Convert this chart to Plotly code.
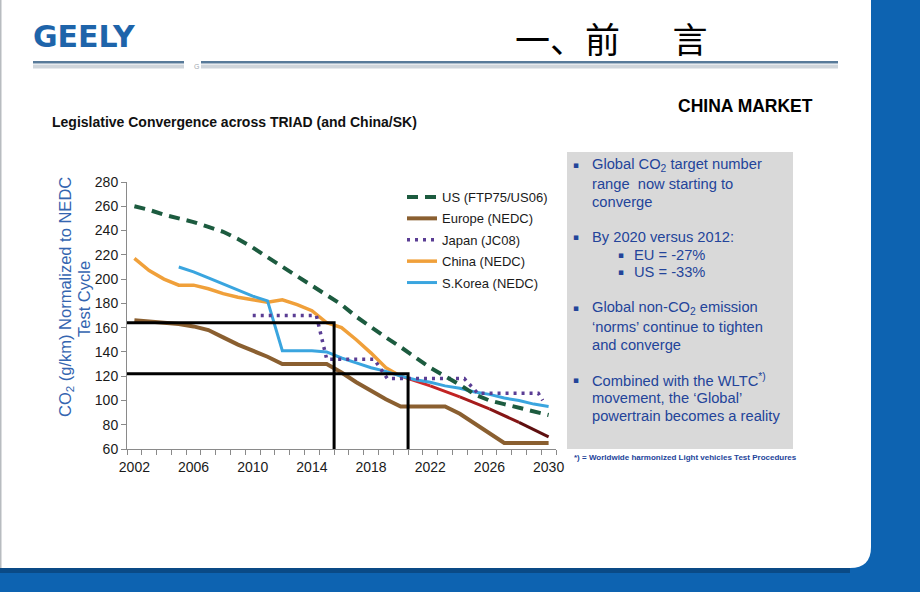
import plotly.graph_objects as go

# ---------------- data ----------------
years_full = list(range(2002, 2031))
us_ftp = [260, 257, 253, 250, 247, 243, 239, 233, 226, 218, 210, 203, 195, 187, 179,
          169, 160, 152, 144, 135, 127, 120, 113, 105, 100, 97, 94, 91, 88]
europe_nedc = [166, 165, 164, 163, 161, 158, 152, 146, 141, 136, 130, 130, 130, 130, 123,
               115, 108, 101, 95, 95, 95, 95, 89, 81, 73, 65, 65, 65, 65]

china_years = list(range(2002, 2021))
china_nedc = [217, 207, 200, 195, 195, 192, 188, 185, 183, 181, 183, 179, 174, 164, 160,
              150, 139, 127, 120]
china_proj_years = [2020, 2022, 2024, 2026, 2028, 2030]
china_proj = [120, 112, 103, 93, 82, 70]

korea_years = list(range(2005, 2031))
korea_nedc = [210, 206, 201, 196, 191, 186, 182, 141, 141, 141, 140, 135, 131, 127, 124,
              120, 117, 115, 112, 110, 107, 105, 102, 100, 97, 95]

japan_years = [2010, 2014.3, 2015, 2018.2, 2019.1, 2024.3, 2025.2, 2029.3, 2029.6]
japan_jc08 = [170, 170, 134, 134, 118, 118, 106, 106, 100]

ref_years = [2015.5, 2020.5]
ref_values = [164, 122]

x_ticks = [2002, 2006, 2010, 2014, 2018, 2022, 2026, 2030]
y_ticks = [60, 80, 100, 120, 140, 160, 180, 200, 220, 240, 260, 280]

# ---------------- layout geometry ----------------
W, H = 920, 592
ML, MR, MT, MB = 127, 364, 182, 143
PW, PH = W - ML - MR, H - MT - MB
X0, X1 = 2001.5, 2030.5
Y0, Y1 = 60, 280


def fx(px):
    return (px - ML) / PW


def fy(py):
    return (H - MB - py) / PH


FONT = "Arial, 'Liberation Sans', sans-serif"
BLUE_TXT = "#23449a"

fig = go.Figure()

# series (drawing order), legend ranks keep legend order
fig.add_trace(go.Scatter(x=years_full, y=europe_nedc, mode="lines", name="Europe (NEDC)",
                         line=dict(color="#8a5f30", width=4), legendrank=2, legendgroup="eu"))
fig.add_trace(go.Scatter(x=china_years, y=china_nedc, mode="lines", name="China (NEDC)",
                         line=dict(color="#f0a03a", width=3.5), legendrank=4, legendgroup="cn"))
# China projection, red fading to dark
proj_cols = ["#d42a2a", "#c22323", "#a61c1c", "#851515", "#5e0f0f"]
for i in range(len(china_proj_years) - 1):
    fig.add_trace(go.Scatter(x=china_proj_years[i:i + 2], y=china_proj[i:i + 2], mode="lines",
                             line=dict(color=proj_cols[i], width=3), showlegend=False,
                             hoverinfo="skip"))
fig.add_trace(go.Scatter(x=korea_years, y=korea_nedc, mode="lines", name="S.Korea (NEDC)",
                         line=dict(color="#3aa5df", width=3), legendrank=5, legendgroup="kr"))
fig.add_trace(go.Scatter(x=japan_years, y=japan_jc08, mode="lines", name="Japan (JC08)",
                         line=dict(color="#5a3d94", width=3.5, dash="3px,5px"), legendrank=3,
                         legendgroup="jp"))
fig.add_trace(go.Scatter(x=years_full, y=us_ftp, mode="lines", name="US (FTP75/US06)",
                         line=dict(color="#1c5b3f", width=4, dash="11px,7px"), legendrank=1,
                         legendgroup="us"))
for yr, v in zip(ref_years, ref_values):
    fig.add_trace(go.Scatter(x=[X0, yr, yr], y=[v, v, Y0], mode="lines",
                             line=dict(color="#000000", width=3), showlegend=False,
                             hoverinfo="skip", cliponaxis=False))

shapes = []
# slide background: blue frame, white panel with rounded bottom-right corner
shapes.append(dict(type="path", xref="paper", yref="paper", layer="below",
                   path=(f"M {fx(0)},{fy(0)} L {fx(871)},{fy(0)} L {fx(871)},{fy(547)} "
                         f"Q {fx(871)},{fy(568)} {fx(850)},{fy(568)} L {fx(0)},{fy(568)} Z"),
                   fillcolor="#ffffff", line=dict(width=0)))
shapes.append(dict(type="rect", xref="paper", yref="paper", layer="below",
                   x0=fx(0), x1=fx(1.5), y0=fy(0), y1=fy(568),
                   fillcolor="#b8bcc0", line=dict(width=0)))
shapes.append(dict(type="rect", xref="paper", yref="paper", layer="below",
                   x0=fx(0), x1=fx(850), y0=fy(568), y1=fy(573),
                   fillcolor="#0a4a86", line=dict(width=0)))
# header rules
for a, b in [(33, 184), (201, 838)]:
    shapes.append(dict(type="rect", xref="paper", yref="paper", layer="below",
                       x0=fx(a), x1=fx(b), y0=fy(61), y1=fy(63.5),
                       fillcolor="#587a99", line=dict(width=0)))
    shapes.append(dict(type="rect", xref="paper", yref="paper", layer="below",
                       x0=fx(a), x1=fx(b), y0=fy(64.5), y1=fy(68.5),
                       fillcolor="#cfd5db", line=dict(width=0)))
# grey text box
shapes.append(dict(type="rect", xref="paper", yref="paper", layer="below",
                   x0=fx(567), x1=fx(793), y0=fy(152), y1=fy(449),
                   fillcolor="#d9d9d9", line=dict(width=0)))

ann = []


def add_text(text, x, y, size, color, xanchor="left", yanchor="middle", family=FONT, angle=0):
    ann.append(dict(text=text, x=fx(x), y=fy(y), xref="paper", yref="paper",
                    xanchor=xanchor, yanchor=yanchor, showarrow=False, textangle=angle,
                    font=dict(size=size, color=color, family=family)))


add_text("<b>GEELY</b>", 31, 36, 30, "#1e64aa", family="'DejaVu Sans', sans-serif")
add_text("一、前\u3000\u2002言", 513, 37, 35, "#000000", family="'Noto Sans CJK SC', sans-serif")
add_text("G", 192, 66, 7, "#a0a8b0")
add_text("<b>CHINA MARKET</b>", 815, 106, 17.5, "#000000", xanchor="right")
add_text("<b>Legislative Convergence across TRIAD (and China/SK)</b>", 50, 122, 14, "#111111")

# y-axis title
add_text("CO<sub>2</sub> (g/km) Normalized to NEDC", 66, 297, 16.5, "#3465b0",
         xanchor="center", angle=-90)
add_text("Test Cycle", 84, 299, 16.5, "#3465b0", xanchor="center", angle=-90)

# bullet text box
box_lines = [
    ("Global CO<sub>2</sub> target number", 590, 165),
    ("range  now starting to", 590, 184),
    ("converge", 590, 202),
    ("By 2020 versus 2012:", 590, 237),
    ("EU = -27%", 632, 255),
    ("US = -33%", 632, 272),
    ("Global non-CO<sub>2</sub> emission", 590, 308),
    ("‘norms’ continue to tighten", 590, 327),
    ("and converge", 590, 345),
    ("Combined with the WLTC<sup>*)</sup>", 590, 380),
    ("movement, the ‘Global’", 590, 398),
    ("powertrain becomes a reality", 590, 416),
]
for t, x, y in box_lines:
    add_text(t, x, y, 14.7, BLUE_TXT)
for x, y in [(576, 165), (576, 237), (621, 255), (621, 272), (576, 308), (576, 380)]:
    add_text("▪", x, y, 9, BLUE_TXT, xanchor="center", family="'DejaVu Sans', sans-serif")

add_text("<b>*) = Worldwide harmonized Light vehicles Test Procedures</b>", 572, 457, 8,
         BLUE_TXT)

fig.update_layout(
    width=W, height=H,
    margin=dict(l=ML, r=MR, t=MT, b=MB, pad=0),
    paper_bgcolor="#0d63b1",
    plot_bgcolor="rgba(0,0,0,0)",
    font=dict(family=FONT, color="#1a1a1a"),
    showlegend=True,
    legend=dict(x=fx(402), y=fy(182), xanchor="left", yanchor="top",
                bgcolor="rgba(0,0,0,0)", font=dict(size=13, color="#1a1a1a", family=FONT),
                tracegroupgap=1.5, itemwidth=30),
    shapes=shapes,
    annotations=ann,
    xaxis=dict(range=[X0, X1], tickvals=x_ticks, ticks="", showgrid=False, zeroline=False,
               showline=True, linecolor="#8a8a8a", linewidth=1, ticklabelstandoff=5,
               tickfont=dict(size=14, color="#1a1a1a"),
               minor=dict(ticks="outside", tick0=X0, dtick=1, ticklen=5,
                          tickcolor="#8a8a8a", showgrid=False)),
    yaxis=dict(range=[Y0, Y1], tickvals=y_ticks, ticks="outside", ticklen=5,
               tickcolor="#8a8a8a", showgrid=False, zeroline=False, showline=True,
               linecolor="#8a8a8a", linewidth=1, tickfont=dict(size=14, color="#1a1a1a")),
)

fig.write_html("out.html")
